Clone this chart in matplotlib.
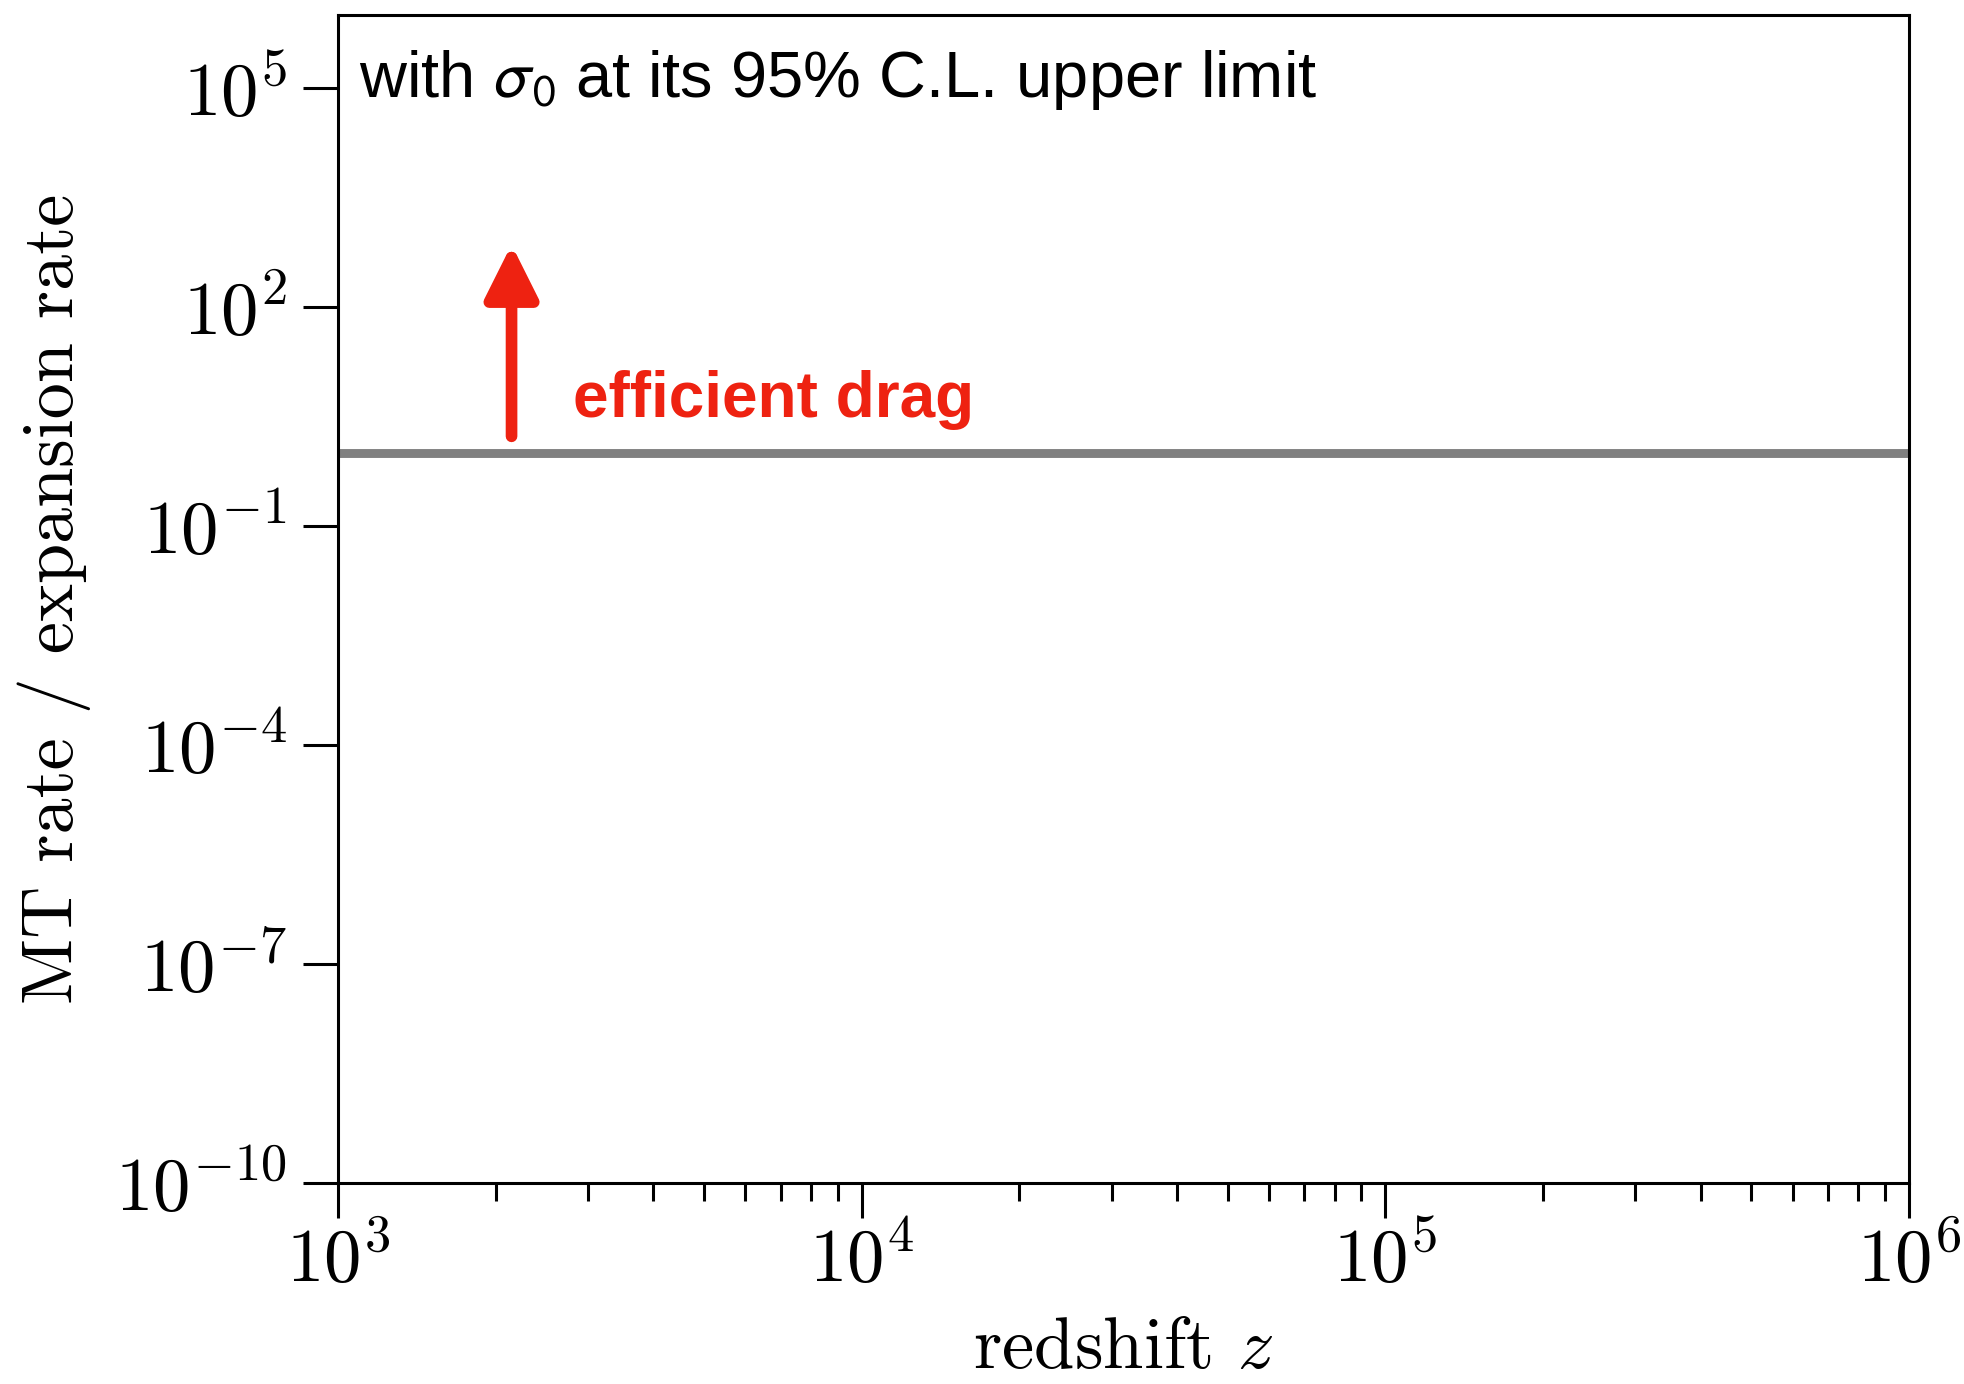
import numpy as np
import matplotlib
matplotlib.use("Agg")
import matplotlib.pyplot as plt

plt.rcParams["font.family"] = "cmr10"
plt.rcParams["mathtext.fontset"] = "cm"
plt.rcParams["axes.formatter.use_mathtext"] = True

# data
z_range = [1e3, 1e6]
y_range = [1e-10, 1e6]
threshold = 1.0            # MT rate / expansion rate = 1
arrow_z = 2145
arrow_from = 1.7
arrow_to = 720
label_z = 2810
label_y = 3.1
yticks = [1e-10, 1e-7, 1e-4, 1e-1, 1e2, 1e5]

fig = plt.figure(figsize=(9.825, 6.92), dpi=200)
ax = fig.add_axes([0.172, 0.1452, 0.7995, 0.8438])

ax.set_xscale("log")
ax.set_yscale("log")
ax.set_xlim(z_range)
ax.set_ylim(y_range)

ax.plot(z_range, [threshold, threshold], color="#808080", lw=3.2, solid_capstyle="butt")

ax.annotate("", xy=(arrow_z, arrow_to), xytext=(arrow_z, arrow_from),
            arrowprops=dict(arrowstyle="-|>,head_length=1.6,head_width=0.8",
                            color="#ee2211", lw=4.2, shrinkA=0, shrinkB=0))
ax.text(label_z, label_y, "efficient drag", color="#ee2211", fontsize=23,
        fontweight="bold", family="Liberation Sans", ha="left", va="baseline")

ax.text(0.0135, 0.93, r"with $\sigma_0$ at its 95% C.L. upper limit",
        transform=ax.transAxes, fontsize=23.4, family="Liberation Sans",
        math_fontfamily="stixsans", ha="left", va="baseline")

ax.set_yticks(yticks)
ax.yaxis.set_minor_locator(matplotlib.ticker.NullLocator())
ax.tick_params(which="major", direction="out", length=12.5, width=1.1,
               labelsize=27, top=False, right=False)
ax.tick_params(axis="y", pad=6)
ax.tick_params(axis="x", pad=3)
ax.tick_params(which="minor", direction="out", length=6.5, width=1.1,
               top=False, right=False)
for s in ax.spines.values():
    s.set_linewidth(1.1)

ax.set_xlabel(r"redshift $z$", fontsize=26.2, labelpad=7)
ax.set_ylabel("MT rate / expansion rate", fontsize=26)
ax.yaxis.set_label_coords(-0.157, 0.5)

fig.savefig("out.png", dpi=200)
